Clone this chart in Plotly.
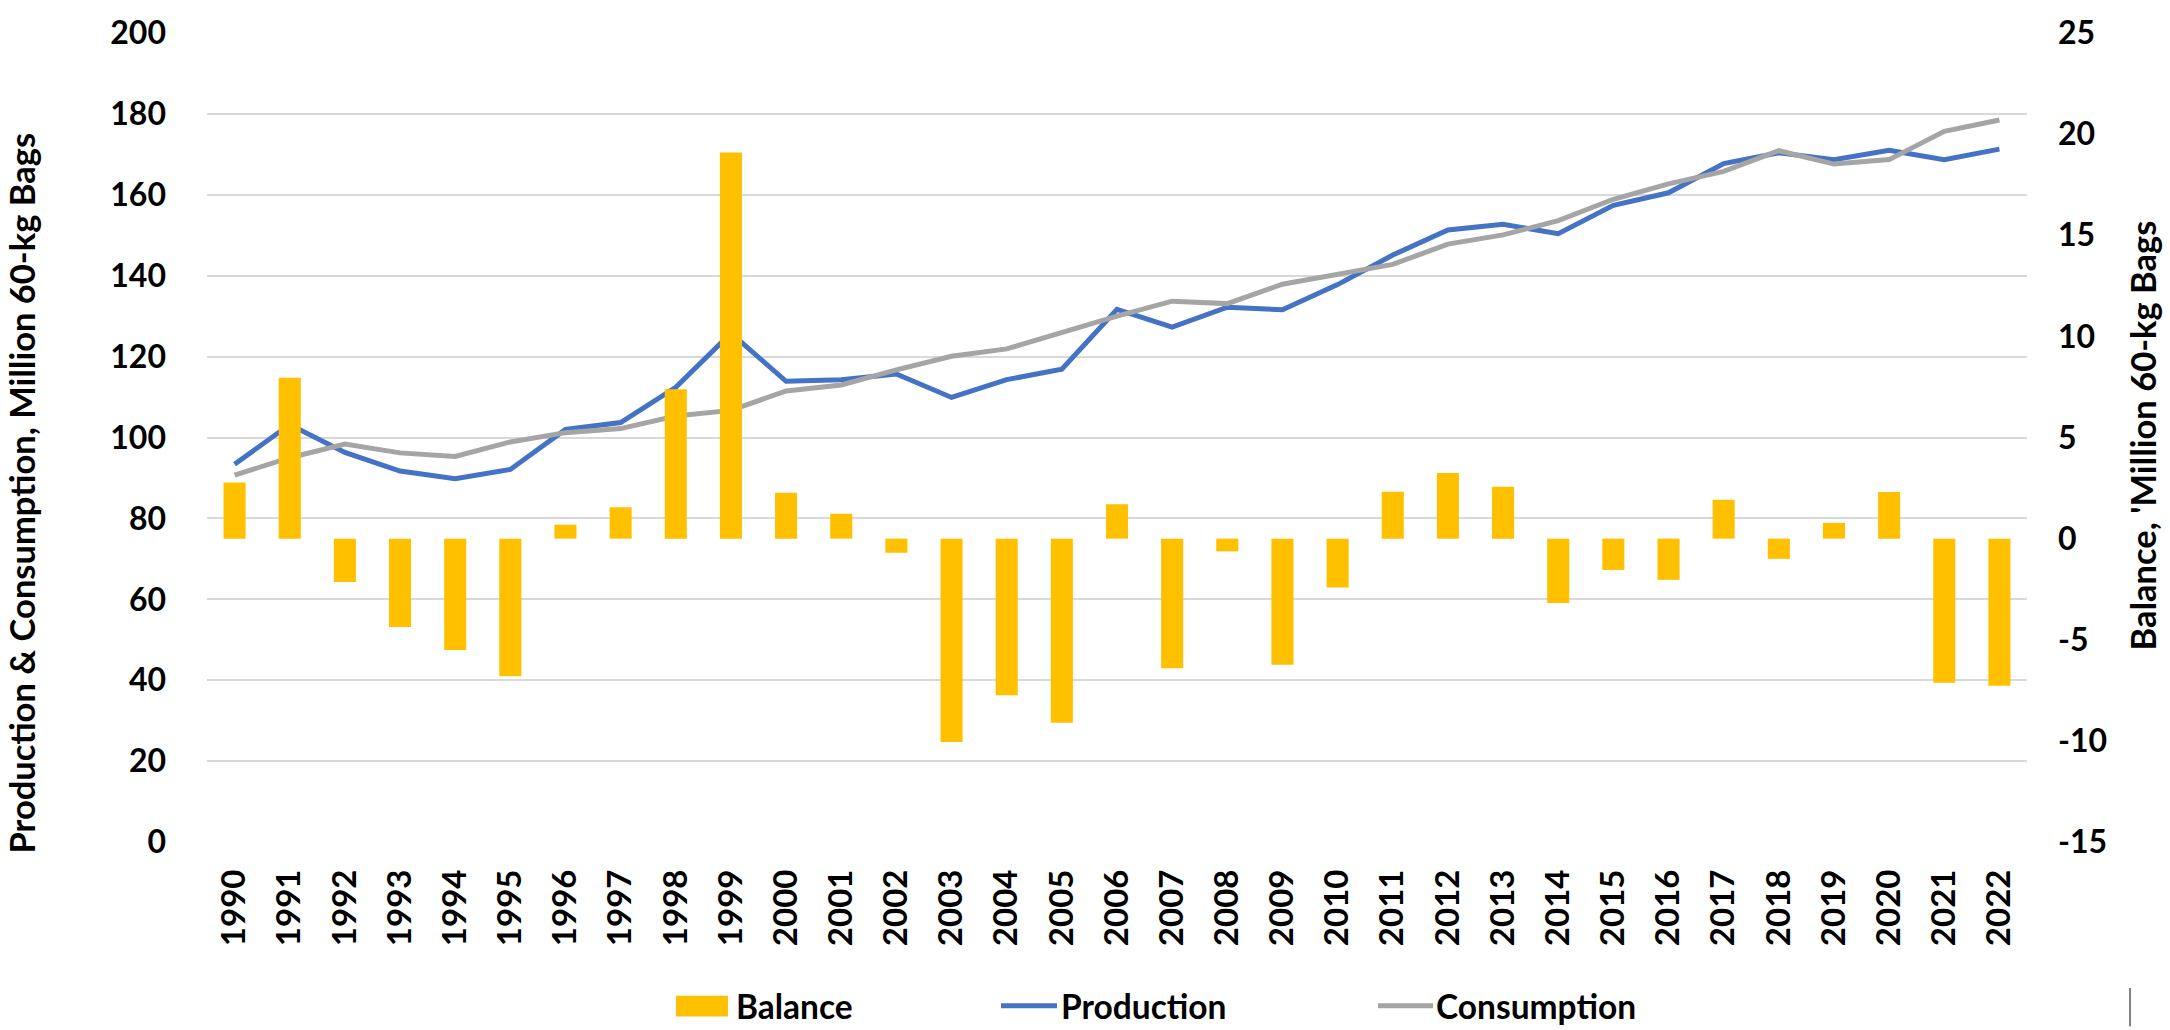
import plotly.graph_objects as go

years = [str(y) for y in range(1990, 2023)]
production = [93.4, 103.2, 96.3, 91.7, 89.8, 92.1, 102.0, 103.7, 112.4, 125.8,
              113.9, 114.3, 115.7, 109.9, 114.3, 116.9, 131.7, 127.3, 132.2, 131.6,
              137.8, 145.1, 151.3, 152.7, 150.4, 157.4, 160.5, 167.7, 170.4, 168.7,
              171.0, 168.7, 171.3]
consumption = [90.7, 95.0, 98.4, 96.2, 95.3, 98.9, 101.2, 102.2, 105.3, 106.7,
               111.5, 113.0, 116.7, 120.1, 121.9, 126.1, 130.0, 133.7, 133.1, 137.9,
               140.2, 142.8, 147.8, 150.1, 153.6, 158.9, 162.7, 165.8, 170.9, 167.6,
               168.7, 175.7, 178.5]
balance = [2.77, 7.95, -2.14, -4.37, -5.51, -6.80, 0.69, 1.55, 7.38, 19.09,
           2.27, 1.23, -0.70, -10.05, -7.75, -9.11, 1.70, -6.41, -0.63, -6.23,
           -2.42, 2.32, 3.24, 2.57, -3.18, -1.55, -2.04, 1.92, -1.00, 0.78,
           2.30, -7.13, -7.28]
left_ticks = list(range(0, 201, 20))
right_ticks = list(range(-15, 26, 5))
left_ticktext = [str(v) for v in left_ticks]
right_ticktext = [str(v) for v in right_ticks]

names = ["Balance", "Production", "Consumption"]
colors = ["#FFC000", "#4472C4", "#A5A5A5"]
left_title = "Production & Consumption, Million 60-kg Bags"
right_title = "Balance, 'Million 60-kg Bags"

FONT = "Lato, Carlito, 'Open Sans', sans-serif"

fig = go.Figure()
fig.add_trace(go.Bar(x=years, y=balance, name=names[0], marker_color=colors[0],
                     marker_line_width=0, width=0.4, yaxis="y2", showlegend=False))
fig.add_trace(go.Scatter(x=years, y=production, name=names[1], mode="lines",
                         line=dict(color=colors[1], width=5), showlegend=False))
fig.add_trace(go.Scatter(x=years, y=consumption, name=names[2], mode="lines",
                         line=dict(color=colors[2], width=5), showlegend=False))

W, H = 2170, 1030
L, R, T, B = 207, 143, 19.5, 187.5
pw = W - L - R
ph = H - T - B

def px(X):
    return (X - L) / pw

def py(Y):
    return (H - B - Y) / ph

shapes = [
    dict(type="rect", xref="paper", yref="paper", x0=px(676), x1=px(728), y0=py(1020), y1=py(999),
         fillcolor=colors[0], line=dict(width=0)),
    dict(type="line", xref="paper", yref="paper", x0=px(1001), x1=px(1057), y0=py(1009), y1=py(1009),
         line=dict(color=colors[1], width=5)),
    dict(type="line", xref="paper", yref="paper", x0=px(1378), x1=px(1433), y0=py(1009), y1=py(1009),
         line=dict(color=colors[2], width=5)),
    dict(type="line", xref="paper", yref="paper", x0=px(2130), x1=px(2130), y0=py(1030), y1=py(991),
         line=dict(color="black", width=1)),
]

leg_font = dict(family=FONT, size=33.5, color="black", weight="bold")
title_font = dict(family=FONT, size=34.5, color="black", weight="bold")
annotations = [
    dict(text=names[0], xref="paper", yref="paper", x=px(734), y=py(1009), xanchor="left", yanchor="middle",
         showarrow=False, font=leg_font),
    dict(text=names[1], xref="paper", yref="paper", x=px(1059), y=py(1009), xanchor="left", yanchor="middle",
         showarrow=False, font=leg_font),
    dict(text=names[2], xref="paper", yref="paper", x=px(1434), y=py(1009), xanchor="left", yanchor="middle",
         showarrow=False, font=leg_font),
    dict(text=left_title, xref="paper", yref="paper", x=px(22), y=py(488), xanchor="center", yanchor="middle",
         textangle=-90, showarrow=False, font=title_font),
    dict(text=right_title, xref="paper", yref="paper", x=px(2143), y=py(429), xanchor="center", yanchor="middle",
         textangle=-90, showarrow=False, font=title_font),
]

tick_font = dict(family=FONT, size=32, color="black", weight="bold")
xtick_font = dict(family=FONT, size=33, color="black", weight="bold")

fig.update_layout(
    width=W, height=H,
    margin=dict(l=L, r=R, t=T, b=B, pad=0),
    paper_bgcolor="white", plot_bgcolor="white",
    showlegend=False,
    xaxis=dict(type="category", tickangle=-90, tickfont=xtick_font, showgrid=False,
               showline=False, zeroline=False, ticks="", ticklabelstandoff=20),
    yaxis=dict(range=[0, 200], tickvals=left_ticks, ticktext=left_ticktext, tickfont=tick_font,
               showgrid=True, gridcolor="#D9D9D9", gridwidth=1.5, zeroline=False, showline=False,
               ticks="", ticklabelstandoff=40, ticklabeloverflow="allow"),
    yaxis2=dict(range=[-15, 25], tickvals=right_ticks, ticktext=right_ticktext, tickfont=tick_font,
                overlaying="y", side="right", showgrid=False, zeroline=False, showline=False,
                ticks="", ticklabelstandoff=30, ticklabeloverflow="allow"),
    shapes=shapes,
    annotations=annotations,
)

fig.write_html("out.html", config={"displayModeBar": False},
               post_script="document.body.style.margin='0';document.body.style.overflow='hidden';")
